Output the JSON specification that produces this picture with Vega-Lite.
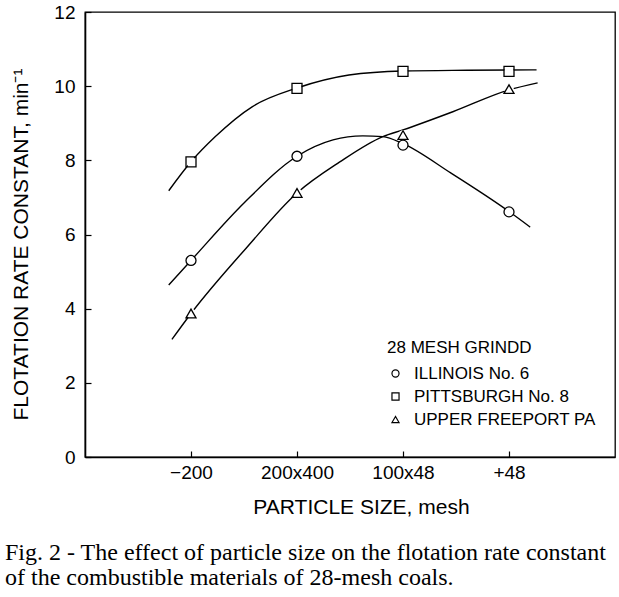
{
  "$schema": "https://vega.github.io/schema/vega-lite/v6.json",
  "width": 530,
  "height": 445,
  "autosize": {"type": "none"},
  "padding": {"left": 85, "top": 12, "right": 4, "bottom": 140},
  "background": "white",
  "config": {
    "view": {"stroke": "black", "strokeWidth": 1.3},
    "font": "Liberation Sans",
    "axis": {"grid": false, "domainColor": "black", "domainWidth": 1.6, "tickColor": "black", "labelColor": "black", "titleColor": "black", "labelFont": "Liberation Sans", "titleFont": "Liberation Sans", "titleFontWeight": "normal"}
  },
  "title": {
    "text": ["Fig. 2 - The effect of particle size on the flotation rate constant", "of the combustible materials of 28-mesh coals."],
    "orient": "bottom", "anchor": "start", "frame": "group", "dx": -80, "offset": 24,
    "font": "Liberation Serif", "fontSize": 24, "fontWeight": "normal", "lineHeight": 25, "color": "black"
  },
  "datasets": {
    "points": [
      {"coal": "ILLINOIS No. 6", "size": 1, "k": 5.3},
      {"coal": "ILLINOIS No. 6", "size": 2, "k": 8.11},
      {"coal": "ILLINOIS No. 6", "size": 3, "k": 8.41},
      {"coal": "ILLINOIS No. 6", "size": 4, "k": 6.61},
      {"coal": "PITTSBURGH No. 8", "size": 1, "k": 7.96},
      {"coal": "PITTSBURGH No. 8", "size": 2, "k": 9.94},
      {"coal": "PITTSBURGH No. 8", "size": 3, "k": 10.4},
      {"coal": "PITTSBURGH No. 8", "size": 4, "k": 10.4},
      {"coal": "UPPER FREEPORT PA", "size": 1, "k": 3.87},
      {"coal": "UPPER FREEPORT PA", "size": 2, "k": 7.12},
      {"coal": "UPPER FREEPORT PA", "size": 3, "k": 8.68},
      {"coal": "UPPER FREEPORT PA", "size": 4, "k": 9.92}
    ],
    "curves": [
      {"coal": "ILLINOIS No. 6", "size": 0.79, "k": 4.64},
      {"coal": "ILLINOIS No. 6", "size": 1.0, "k": 5.3},
      {"coal": "ILLINOIS No. 6", "size": 1.5, "k": 6.85},
      {"coal": "ILLINOIS No. 6", "size": 2.0, "k": 8.11},
      {"coal": "ILLINOIS No. 6", "size": 2.34, "k": 8.55},
      {"coal": "ILLINOIS No. 6", "size": 2.62, "k": 8.66},
      {"coal": "ILLINOIS No. 6", "size": 2.81, "k": 8.64},
      {"coal": "ILLINOIS No. 6", "size": 3.0, "k": 8.45},
      {"coal": "ILLINOIS No. 6", "size": 3.45, "k": 7.66},
      {"coal": "ILLINOIS No. 6", "size": 4.0, "k": 6.62},
      {"coal": "ILLINOIS No. 6", "size": 4.2, "k": 6.2},
      {"coal": "PITTSBURGH No. 8", "size": 0.79, "k": 7.18},
      {"coal": "PITTSBURGH No. 8", "size": 1.0, "k": 7.96},
      {"coal": "PITTSBURGH No. 8", "size": 1.23, "k": 8.64},
      {"coal": "PITTSBURGH No. 8", "size": 1.58, "k": 9.45},
      {"coal": "PITTSBURGH No. 8", "size": 2.0, "k": 9.95},
      {"coal": "PITTSBURGH No. 8", "size": 2.49, "k": 10.3},
      {"coal": "PITTSBURGH No. 8", "size": 3.0, "k": 10.41},
      {"coal": "PITTSBURGH No. 8", "size": 3.6, "k": 10.43},
      {"coal": "PITTSBURGH No. 8", "size": 4.26, "k": 10.44},
      {"coal": "UPPER FREEPORT PA", "size": 0.82, "k": 3.17},
      {"coal": "UPPER FREEPORT PA", "size": 1.0, "k": 3.87},
      {"coal": "UPPER FREEPORT PA", "size": 1.52, "k": 5.63},
      {"coal": "UPPER FREEPORT PA", "size": 2.0, "k": 7.12},
      {"coal": "UPPER FREEPORT PA", "size": 2.4, "k": 7.95},
      {"coal": "UPPER FREEPORT PA", "size": 2.81, "k": 8.64},
      {"coal": "UPPER FREEPORT PA", "size": 3.0, "k": 8.82},
      {"coal": "UPPER FREEPORT PA", "size": 3.47, "k": 9.31},
      {"coal": "UPPER FREEPORT PA", "size": 4.0, "k": 9.9},
      {"coal": "UPPER FREEPORT PA", "size": 4.27, "k": 10.09}
    ]
  },
  "encoding": {
    "x": {
      "field": "size", "type": "quantitative",
      "scale": {"domain": [0, 5], "nice": false, "zero": false},
      "axis": {
        "values": [1, 2, 3, 4],
        "labelExpr": "datum.value == 1 ? '\u2212200' : datum.value == 2 ? '200x400' : datum.value == 3 ? '100x48' : '+48'",
        "title": "PARTICLE SIZE, mesh",
        "tickSize": -6, "tickWidth": 1.2, "labelPadding": 12, "labelFontSize": 19,
        "titleFontSize": 21, "titleX": 276, "titleY": 50, "titleAnchor": "middle", "titleAlign": "center", "titleBaseline": "middle"
      }
    },
    "y": {
      "field": "k", "type": "quantitative",
      "scale": {"domain": [0, 12], "nice": false},
      "axis": {
        "values": [0, 2, 4, 6, 8, 10, 12],
        "title": "FLOTATION RATE CONSTANT, min\u207B\u00B9",
        "tickSize": -6, "tickWidth": 1.2, "labelPadding": 16, "labelFontSize": 19,
        "titleFontSize": 21, "titleAngle": -90, "titleX": -64, "titleY": 232, "titleAnchor": "middle", "titleBaseline": "middle", "titleAlign": "center"
      }
    }
  },
  "layer": [
    {
      "data": {"name": "curves"},
      "mark": {"type": "line", "interpolate": "monotone", "color": "black", "strokeWidth": 1.4},
      "encoding": {"detail": {"field": "coal"}}
    },
    {
      "data": {"name": "points"},
      "mark": {"type": "point", "shape": "circle", "filled": true, "color": "white", "size": 95, "opacity": 1}
    },
    {
      "data": {"name": "points"},
      "mark": {"type": "point", "filled": false, "color": "black", "strokeWidth": 1.3, "size": 100, "opacity": 1},
      "encoding": {
        "shape": {
          "field": "coal", "type": "nominal",
          "scale": {"domain": ["ILLINOIS No. 6", "PITTSBURGH No. 8", "UPPER FREEPORT PA"], "range": ["circle", "square", "triangle-up"]},
          "legend": {
            "title": "28 MESH GRINDD",
            "orient": "none", "legendX": 302, "legendY": 328,
            "titleFont": "Liberation Sans", "titleFontSize": 17, "titleFontWeight": "normal", "titleColor": "black", "titlePadding": 8,
            "labelFont": "Liberation Sans", "labelFontSize": 17, "labelColor": "black", "labelOffset": 10, "labelLimit": 0,
            "symbolSize": 50, "symbolStrokeWidth": 1.2,
            "rowPadding": 5, "padding": 0
          }
        }
      }
    }
  ]
}
